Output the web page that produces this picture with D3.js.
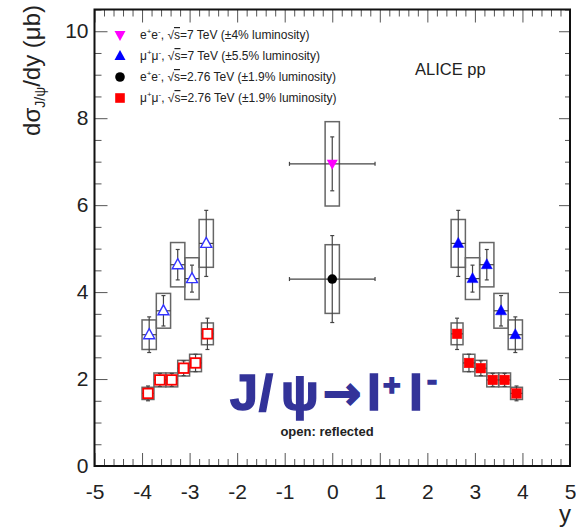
<!DOCTYPE html>
<html>
<head>
<meta charset="utf-8">
<script src="https://cdn.jsdelivr.net/npm/d3@7"></script>
<style>
  body { margin: 0; background: #fff; }
  svg { display: block; font-family: "Liberation Sans", Arial, sans-serif; }
  .tick line { stroke: #555; stroke-width: 1; }
  .tick text { fill: #222; font-size: 21px; font-family: "Liberation Sans", Arial, sans-serif; }
</style>
</head>
<body>
<div id="chart"></div>
<script>
// 7 TeV, mu+mu- (forward), bins of 0.3 in y
const yBins7 = [2.65, 2.95, 3.25, 3.55, 3.85];
const sigma7Mu = [5.12, 4.31, 4.63, 3.57, 3.02];
const stat7Mu = [0.76, 0.31, 0.35, 0.35, 0.41];
const syst7Mu = [0.55, 0.48, 0.51, 0.40, 0.34];
const half7 = 0.15;

// 2.76 TeV, mu+mu- (forward), bins of 0.25 in y
const yBins276 = [2.625, 2.875, 3.125, 3.375, 3.625, 3.875];
const sigma276Mu = [3.04, 2.37, 2.25, 1.98, 1.98, 1.67];
const stat276Mu = [0.36, 0.20, 0.17, 0.15, 0.15, 0.17];
const syst276Mu = [0.25, 0.20, 0.18, 0.16, 0.16, 0.14];
const half276 = 0.125;

// mid-rapidity e+e- points: [y, sigma, stat, syst]
const ee7 = [0, 6.95, 0.62, 0.97];
const ee276 = [0, 4.30, 1.00, 0.79];
const halfMid = 0.9;
const boxHalfMid = 0.15;

const xTicks = d3.range(-5, 6, 1);
const yTicks = [0, 2, 4, 6, 8, 10];

const legendLabels = [
    ["7 TeV (±4% luminosity)", "e"],
    ["7 TeV (±5.5% luminosity)", "mu"],
    ["2.76 TeV (±1.9% luminosity)", "e"],
    ["2.76 TeV (±1.9% luminosity)", "mu"]
];

const width = 576, height = 529;
const x = d3.scaleLinear().domain([-5, 5]).range([94.5, 570]);
const y = d3.scaleLinear().domain([0, 10.5]).range([466, 9.5]);

const svg = d3.select("#chart").append("svg")
    .attr("width", width)
    .attr("height", height);

// axes, ticks pointing inward
function minorOf(step, lo, hi, majors) {
    return d3.range(lo, hi + 1e-6, step)
        .map(v => Math.round(v * 100) / 100)
        .filter(v => !majors.includes(v));
}
const xMinor = minorOf(0.2, -5, 5, xTicks);
const yMinor = minorOf(0.5, 0, 10.5, yTicks);

svg.append("g").attr("transform", `translate(0,${y(0)})`)
    .call(d3.axisBottom(x).tickValues(xTicks).tickSize(-13).tickPadding(18).tickFormat(d => String(d)))
    .call(g => g.select(".domain").remove());
svg.append("g").attr("transform", `translate(0,${y(0)})`)
    .call(d3.axisBottom(x).tickValues(xMinor).tickSize(-7).tickFormat(""))
    .call(g => g.select(".domain").remove());
svg.append("g").attr("transform", `translate(0,${y.range()[1]})`)
    .call(d3.axisTop(x).tickValues(xTicks).tickSize(-13).tickFormat(""))
    .call(g => g.select(".domain").remove());
svg.append("g").attr("transform", `translate(0,${y.range()[1]})`)
    .call(d3.axisTop(x).tickValues(xMinor).tickSize(-7).tickFormat(""))
    .call(g => g.select(".domain").remove());

svg.append("g").attr("transform", `translate(${x(-5)},0)`)
    .call(d3.axisLeft(y).tickValues(yTicks).tickSize(-13).tickPadding(6).tickFormat(d => String(d)))
    .call(g => g.select(".domain").remove());
svg.append("g").attr("transform", `translate(${x(-5)},0)`)
    .call(d3.axisLeft(y).tickValues(yMinor).tickSize(-7).tickFormat(""))
    .call(g => g.select(".domain").remove());
svg.append("g").attr("transform", `translate(${x(5)},0)`)
    .call(d3.axisRight(y).tickValues(yTicks).tickSize(-11).tickFormat(""))
    .call(g => g.select(".domain").remove());
svg.append("g").attr("transform", `translate(${x(5)},0)`)
    .call(d3.axisRight(y).tickValues(yMinor).tickSize(-5).tickFormat(""))
    .call(g => g.select(".domain").remove());

// frame
svg.append("rect")
    .attr("x", x(-5)).attr("y", y(10.5))
    .attr("width", x(5) - x(-5)).attr("height", y(0) - y(10.5))
    .attr("fill", "none").attr("stroke", "#111").attr("stroke-width", 2);

// axis titles
svg.append("text")
    .attr("x", 571).attr("y", 522)
    .attr("text-anchor", "end")
    .attr("font-size", 24).attr("fill", "#222")
    .text("y");

const yTitle = svg.append("text")
    .attr("transform", "translate(40,5) rotate(-90)")
    .attr("text-anchor", "end")
    .attr("font-size", 24).attr("fill", "#222");
yTitle.append("tspan").text("dσ");
yTitle.append("tspan").attr("font-size", 14).attr("dy", 5).text("J/ψ");
yTitle.append("tspan").attr("dy", -5).text("/dy (μb)");

// build a point list for one forward series, incl. reflected copy
function forwardPoints(bins, sigma, stat, syst, half) {
    const pts = [];
    bins.forEach((b, i) => {
        pts.push({ y: b, v: sigma[i], stat: stat[i], syst: syst[i], half: half, box: half, open: false });
        pts.push({ y: -b, v: sigma[i], stat: stat[i], syst: syst[i], half: half, box: half, open: true });
    });
    return pts;
}
const pts7 = forwardPoints(yBins7, sigma7Mu, stat7Mu, syst7Mu, half7);
const pts276 = forwardPoints(yBins276, sigma276Mu, stat276Mu, syst276Mu, half276);
const ptsMid7 = [{ y: ee7[0], v: ee7[1], stat: ee7[2], syst: ee7[3], half: halfMid, box: boxHalfMid }];
const ptsMid276 = [{ y: ee276[0], v: ee276[1], stat: ee276[2], syst: ee276[3], half: halfMid, box: boxHalfMid }];

const allPts = [].concat(pts7, pts276, ptsMid7, ptsMid276);

// systematic boxes
svg.append("g").selectAll("rect")
    .data(allPts).join("rect")
    .attr("x", d => x(d.y - d.box))
    .attr("y", d => y(d.v + d.syst))
    .attr("width", d => x(d.y + d.box) - x(d.y - d.box))
    .attr("height", d => y(d.v - d.syst) - y(d.v + d.syst))
    .attr("fill", "none").attr("stroke", "#666").attr("stroke-width", 1.5);

// error bars
const eb = svg.append("g").attr("stroke", "#444").attr("stroke-width", 1.2);
allPts.forEach(d => {
    const cx = x(d.y), cy = y(d.v);
    eb.append("line").attr("x1", cx).attr("x2", cx).attr("y1", y(d.v + d.stat)).attr("y2", y(d.v - d.stat));
    eb.append("line").attr("x1", cx - 2).attr("x2", cx + 2).attr("y1", y(d.v + d.stat)).attr("y2", y(d.v + d.stat));
    eb.append("line").attr("x1", cx - 2).attr("x2", cx + 2).attr("y1", y(d.v - d.stat)).attr("y2", y(d.v - d.stat));
    eb.append("line").attr("x1", x(d.y - d.half)).attr("x2", x(d.y + d.half)).attr("y1", cy).attr("y2", cy);
    if (d.half > 0.5) {
        eb.append("line").attr("x1", x(d.y - d.half)).attr("x2", x(d.y - d.half)).attr("y1", cy - 2).attr("y2", cy + 2);
        eb.append("line").attr("x1", x(d.y + d.half)).attr("x2", x(d.y + d.half)).attr("y1", cy - 2).attr("y2", cy + 2);
    }
});

// markers
const triUp = "M0,-6L5.5,4L-5.5,4Z";
const triDown = "M0,6L5.5,-4L-5.5,-4Z";

svg.append("g").selectAll("path")
    .data(pts7).join("path")
    .attr("transform", d => `translate(${x(d.y)},${y(d.v)})`)
    .attr("d", triUp)
    .attr("fill", d => d.open ? "#fff" : "#0000ff")
    .attr("stroke", d => d.open ? "#3333ff" : "#0000ff").attr("stroke-width", d => d.open ? 1.4 : 0.5);

svg.append("g").selectAll("rect")
    .data(pts276).join("rect")
    .attr("x", d => x(d.y) - 4.8).attr("y", d => y(d.v) - 4.8)
    .attr("width", 9.6).attr("height", 9.6)
    .attr("fill", d => d.open ? "#fff" : "#ff0000")
    .attr("stroke", "#ff0000").attr("stroke-width", d => d.open ? 1.8 : 0.5);

svg.append("g").selectAll("path")
    .data(ptsMid7).join("path")
    .attr("transform", d => `translate(${x(d.y)},${y(d.v)})`)
    .attr("d", triDown).attr("fill", "#ff00ff");

svg.append("g").selectAll("circle")
    .data(ptsMid276).join("circle")
    .attr("cx", d => x(d.y)).attr("cy", d => y(d.v)).attr("r", 4.8)
    .attr("fill", "#000");

// legend
const legend = svg.append("g").attr("fill", "#222").attr("font-size", 12);
const legendRows = [35, 56, 77, 98];
legendLabels.forEach((lab, i) => {
    const ly = legendRows[i];
    if (i === 0) legend.append("path").attr("transform", `translate(120,${ly})`).attr("d", triDown).attr("fill", "#ff00ff");
    if (i === 1) legend.append("path").attr("transform", `translate(120,${ly})`).attr("d", triUp).attr("fill", "#0000ff");
    if (i === 2) legend.append("circle").attr("cx", 120).attr("cy", ly).attr("r", 4.8).attr("fill", "#000");
    if (i === 3) legend.append("rect").attr("x", 115.2).attr("y", ly - 4.8).attr("width", 9.6).attr("height", 9.6).attr("fill", "#ff0000");

    const t = legend.append("text").attr("x", 140).attr("y", ly + 4);
    const p = lab[1] === "e" ? "e" : "μ";
    t.append("tspan").text(p);
    t.append("tspan").attr("font-size", 8).attr("dy", -5).text("+");
    t.append("tspan").attr("dy", 5).text(p);
    t.append("tspan").attr("font-size", 8).attr("dy", -5).text("-");
    t.append("tspan").attr("dy", 5).text(", √");
    t.append("tspan").attr("text-decoration", "overline").text("s");
    t.append("tspan").text("=" + lab[0]);
});

svg.append("text")
    .attr("x", 415).attr("y", 75)
    .attr("font-size", 16.5).attr("fill", "#222")
    .text("ALICE pp");

// big label, glyph by glyph
const big = svg.append("text")
    .attr("y", 410)
    .attr("font-size", 50).attr("font-weight", "bold")
    .attr("fill", "#333399").attr("stroke", "#333399").attr("stroke-width", 1.6);
big.append("tspan").attr("x", 230).text("J");
big.append("tspan").attr("x", 259).text("/");
big.append("tspan").attr("x", 281).text("ψ");
big.append("tspan").attr("x", 323).attr("font-family", "DejaVu Sans").attr("font-size", 46).attr("dy", -1).text("→");
big.append("tspan").attr("x", 367).attr("dy", 1).text("l");
big.append("tspan").attr("x", 383).attr("font-size", 30).attr("dy", -15).text("+");
big.append("tspan").attr("x", 409).attr("dy", 15).text("l");
big.append("tspan").attr("x", 427).attr("font-size", 30).attr("dy", -20).text("-");

svg.append("text")
    .attr("x", 327).attr("y", 436)
    .attr("text-anchor", "middle")
    .attr("font-size", 13).attr("font-weight", "bold").attr("fill", "#222")
    .text("open: reflected");
</script>
</body>
</html>
